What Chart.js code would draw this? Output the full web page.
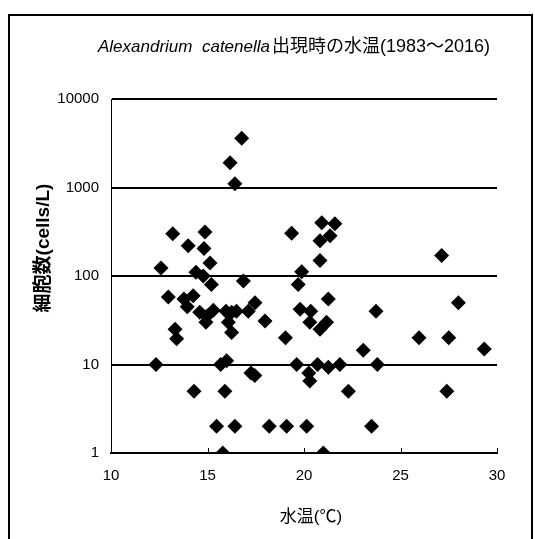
<!DOCTYPE html>
<html>
<head>
<meta charset="utf-8">
<script src="https://cdn.jsdelivr.net/npm/chart.js@4"></script>
<style>
  html, body { margin: 0; padding: 0; background: #fff; }
</style>
</head>
<body>
<canvas id="chart" width="535" height="539"></canvas>
<script>
// texts
const titleLatin = "Alexandrium  catenella";
const titleJa = "出現時の水温(1983～2016)";
const xTitle = "水温(℃)";
const yTitle = "細胞数(cells/L)";

// axes
const xTicks = [10, 15, 20, 25, 30];
const yTicks = [1, 10, 100, 1000, 10000];

// water temperature (°C) and cell count (cells/L)
const temps = [
  12.33, 12.59, 12.97, 13.2, 13.32, 13.4, 13.78, 13.95, 14.0, 14.26,
  14.4, 14.3, 14.6, 14.78, 14.82, 14.87, 14.92, 14.96, 15.13, 15.2,
  15.3, 15.47, 15.68, 15.79, 15.9, 15.96, 15.99, 16.08, 16.25, 16.25,
  16.17, 16.42, 16.42, 16.5, 16.77, 16.86, 17.11, 17.25, 17.45, 17.46,
  17.98, 18.2, 19.04, 19.1, 19.36, 19.62, 19.7, 19.8, 19.88, 20.14,
  20.35, 20.3, 20.25, 20.3, 20.7, 20.83, 20.83, 20.83, 20.92, 21.0,
  21.17, 21.26, 21.26, 21.35, 21.6, 21.86, 22.3, 23.07, 23.5, 23.73,
  23.8, 25.96, 27.13, 27.4, 27.5, 28.0, 29.34
];
const cells = [
  10, 123, 58, 300, 25, 19.5, 55, 45, 220, 60,
  110, 5, 39, 100, 205, 315, 30, 35, 140, 80,
  41, 2, 10, 1, 5, 40, 11, 30, 39, 23,
  1900, 1100, 2, 40, 3600, 88, 40, 8, 7.5, 50,
  31, 2, 20, 2, 305, 10, 80, 42, 112, 2,
  40, 30, 8, 6.5, 10, 25, 250, 150, 400, 1,
  30, 9.3, 55, 285, 390, 10, 5, 14.5, 2, 40,
  10, 20, 170, 5, 20, 50, 15
];

const FONT = '"Liberation Sans", "Noto Sans CJK JP", sans-serif';

const decor = {
  id: 'decor',
  beforeDraw(chart) {
    const ctx = chart.ctx;
    ctx.save();
    ctx.fillStyle = '#fff';
    ctx.fillRect(0, 0, chart.width, chart.height);
    ctx.restore();
  },
  afterDraw(chart) {
    const ctx = chart.ctx;
    const xs = chart.scales.x;
    const area = chart.chartArea;
    ctx.save();
    // outer frame
    ctx.strokeStyle = '#000';
    ctx.lineWidth = 2;
    ctx.strokeRect(9, 15, 523, 600);

    // small inward ticks on the x axis
    ctx.lineWidth = 1;
    xTicks.slice(1).forEach(v => {
      const px = Math.round(xs.getPixelForValue(v)) + 0.5;
      ctx.beginPath();
      ctx.moveTo(px, area.bottom);
      ctx.lineTo(px, area.bottom - 5);
      ctx.stroke();
    });

    ctx.fillStyle = '#000';
    ctx.textBaseline = 'middle';
    ctx.textAlign = 'left';
    // title: italic latin name + japanese
    ctx.font = 'italic 17px ' + FONT;
    ctx.fillText(titleLatin, 98, 47);
    const w1 = ctx.measureText(titleLatin).width;
    ctx.font = '18px ' + FONT;
    ctx.fillText(titleJa, 98 + w1 + 2, 47);

    // x title
    ctx.textAlign = 'center';
    ctx.font = '17px ' + FONT;
    ctx.fillText(xTitle, 311, 517);

    // y title
    ctx.translate(44, 248);
    ctx.rotate(-Math.PI / 2);
    ctx.font = 'bold 19px ' + FONT;
    ctx.fillText(yTitle, 0, 0);
    ctx.restore();
  }
};

new Chart(document.getElementById('chart').getContext('2d'), {
  type: 'scatter',
  data: {
    datasets: [{
      data: temps.map((t, i) => ({ x: t, y: cells[i] })),
      pointStyle: 'rectRot',
      pointRadius: 7.5,
      pointHoverRadius: 7.5,
      backgroundColor: '#000',
      borderColor: '#000',
      borderWidth: 0
    }]
  },
  options: {
    responsive: false,
    animation: false,
    layout: { padding: { top: 99, right: 38, left: 0, bottom: 0 } },
    plugins: {
      legend: { display: false },
      title: { display: false },
      tooltip: { enabled: false }
    },
    scales: {
      x: {
        type: 'linear',
        min: 10,
        max: 30,
        afterBuildTicks: s => { s.ticks = xTicks.map(v => ({ value: v })); },
        afterFit: s => { s.height = 86; },
        grid: { display: false, drawTicks: false },
        border: { display: true, color: '#000', width: 2 },
        ticks: { color: '#000', font: { family: FONT, size: 15 }, padding: 14, maxRotation: 0 }
      },
      y: {
        type: 'logarithmic',
        min: 1,
        max: 10000,
        afterBuildTicks: s => { s.ticks = yTicks.map(v => ({ value: v })); },
        afterFit: s => { s.width = 111; },
        grid: { color: '#000', lineWidth: 2, drawTicks: false },
        border: { display: true, color: '#000', width: 1 },
        ticks: {
          color: '#000',
          font: { family: FONT, size: 15 },
          padding: 12,
          callback: v => String(v)
        }
      }
    }
  },
  plugins: [decor]
});
</script>
</body>
</html>
